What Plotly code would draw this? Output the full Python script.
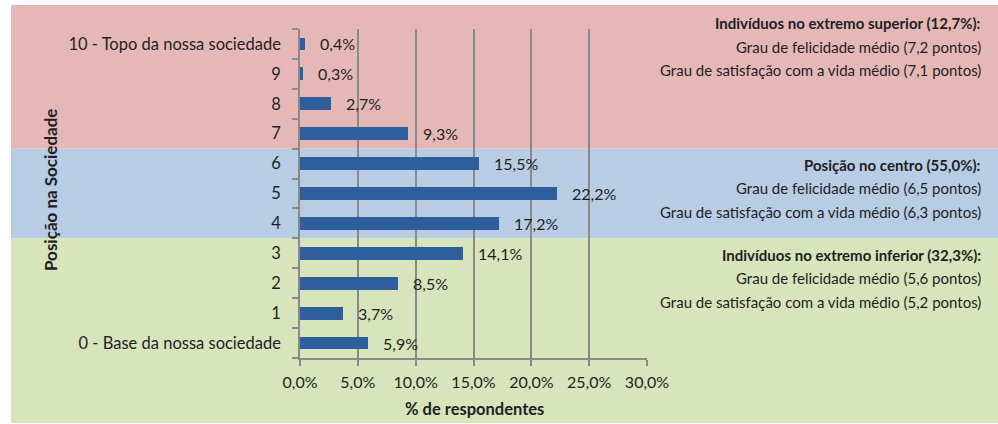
import plotly.graph_objects as go

categories = ["0 - Base da nossa sociedade", "1", "2", "3", "4", "5", "6", "7", "8", "9",
              "10 - Topo da nossa sociedade"]
values = [5.9, 3.7, 8.5, 14.1, 17.2, 22.2, 15.5, 9.3, 2.7, 0.3, 0.4]
value_labels = ["5,9%", "3,7%", "8,5%", "14,1%", "17,2%", "22,2%", "15,5%", "9,3%", "2,7%", "0,3%", "0,4%"]
x_ticks = [0, 5, 10, 15, 20, 25, 30]
x_tick_labels = ["0,0%", "5,0%", "10,0%", "15,0%", "20,0%", "25,0%", "30,0%"]

group_texts = [
    ["<b>Indivíduos no extremo superior (12,7%):</b>",
     "Grau de felicidade médio (7,2 pontos)",
     "Grau de satisfação com a vida médio (7,1 pontos)"],
    ["<b>Posição no centro (55,0%):</b>",
     "Grau de felicidade médio (6,5 pontos)",
     "Grau de satisfação com a vida médio (6,3 pontos)"],
    ["<b>Indivíduos no extremo inferior (32,3%):</b>",
     "Grau de felicidade médio (5,6 pontos)",
     "Grau de satisfação com a vida médio (5,2 pontos)"],
]

W, H = 998, 424
L, R, T, B = 300, 647, 29, 358
pw, ph = R - L, B - T

def px(x):
    return (x - L) / pw

def py(y):
    return (B - y) / ph

FONT = "Lato"
TXT = "#1f1f1f"
GRID = "#8a8a8a"

ypos = list(range(len(categories)))

fig = go.Figure()
fig.add_trace(go.Bar(
    x=values, y=ypos, orientation="h",
    marker=dict(color="#2E5E9C", line=dict(width=0)),
    width=0.43, hoverinfo="skip",
))

# data labels
for v, yv, t in zip(values, ypos, value_labels):
    fig.add_annotation(x=v, y=yv, xref="x", yref="y", text=t, showarrow=False,
                       xanchor="left", yanchor="middle", xshift=13,
                       font=dict(family=FONT, size=16, color=TXT))

# background bands (paper coordinates)
n = len(categories)
bands = [
    (py(5), 7 / n, "#E5B8B7"),
    (7 / n, 4 / n, "#B8CCE4"),
    (4 / n, py(423), "#D7E4BC"),
]
for y1, y0, c in bands:
    fig.add_shape(type="rect", xref="paper", yref="paper",
                  x0=px(11), x1=px(998), y0=y0, y1=y1,
                  fillcolor=c, line=dict(width=0), layer="below")

# right-side texts
line_y = [[23, 47, 70], [165, 188, 212], [255, 278, 302]]
for texts, ys in zip(group_texts, line_y):
    for t, yy in zip(texts, ys):
        fig.add_annotation(x=px(983), y=py(yy), xref="paper", yref="paper", text=t,
                           showarrow=False, xanchor="right", yanchor="middle",
                           font=dict(family=FONT, size=15, color=TXT))

# axis titles
fig.add_annotation(x=px(50), y=py(190), xref="paper", yref="paper",
                   text="<b>Posição na Sociedade</b>", textangle=-90, showarrow=False,
                   xanchor="center", yanchor="middle",
                   font=dict(family=FONT, size=17, color=TXT))
fig.add_annotation(x=px(474), y=py(409), xref="paper", yref="paper",
                   text="<b>% de respondentes</b>", showarrow=False,
                   xanchor="center", yanchor="middle",
                   font=dict(family=FONT, size=16.5, color=TXT))

fig.update_layout(
    width=W, height=H,
    margin=dict(l=L, r=W - R, t=T, b=H - B, autoexpand=False),
    paper_bgcolor="white", plot_bgcolor="rgba(0,0,0,0)",
    showlegend=False, bargap=0,
    font=dict(family=FONT, size=15, color=TXT),
)
fig.update_xaxes(
    range=[0, 30], tickvals=x_ticks, ticktext=x_tick_labels,
    showgrid=True, gridcolor=GRID, gridwidth=1.5,
    showline=True, linecolor=GRID, linewidth=1.5,
    ticks="outside", ticklen=6, tickcolor=GRID, tickwidth=1.5,
    ticklabelstandoff=3,
    tickfont=dict(family=FONT, size=16, color=TXT), zeroline=False,
    fixedrange=True,
)
fig.update_yaxes(
    range=[-0.5, n - 0.5], tickvals=ypos, ticktext=categories,
    showgrid=False, showline=True, linecolor=GRID, linewidth=1.5,
    ticks="", ticklabelstandoff=14,
    minor=dict(tickvals=[i - 0.5 for i in range(n + 1)], ticks="outside",
               ticklen=6, tickcolor=GRID, tickwidth=1.5, showgrid=False),
    tickfont=dict(family=FONT, size=16.5, color=TXT), zeroline=False,
    fixedrange=True,
)

fig.write_html("out.html")
